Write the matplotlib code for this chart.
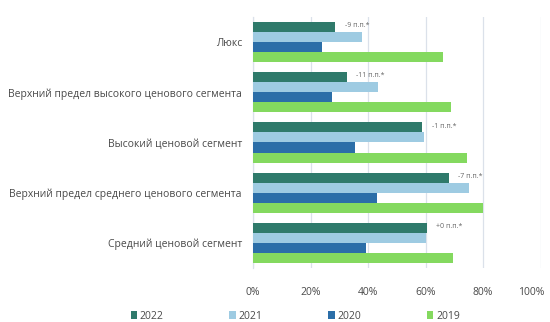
import numpy as np
import matplotlib
matplotlib.use('Agg')
import matplotlib.pyplot as plt
import matplotlib.transforms as mtransforms
from matplotlib.patches import Patch

# ── Данные ──────────────────────────────────────────────
segments = [
    'Люкс',
    'Верхний предел высокого ценового сегмента',
    'Высокий ценовой сегмент',
    'Верхний предел среднего ценового сегмента',
    'Средний ценовой сегмент',
]
years = ['2022', '2021', '2020', '2019']
share_2022 = [28.5, 32.6, 58.7, 68.0, 60.4]
share_2021 = [37.8, 43.5, 59.6, 75.0, 60.2]
share_2020 = [23.9, 27.5, 35.5, 43.2, 39.2]
share_2019 = [66.0, 69.0, 74.5, 80.0, 69.6]
deltas = ['-9 п.п.*', '-11 п.п.*', '-1 п.п.*', '-7 п.п.*', '+0 п.п.*']
x_ticks = [0, 20, 40, 60, 80, 100]

COLORS = ['#2f7a6b', '#9ecbe2', '#2b6ea8', '#84d95f']
TEXT = '#4a4a4a'
GRID = '#dbe1ea'

plt.rcParams['font.family'] = ['Open Sans', 'DejaVu Sans']

fig = plt.figure(figsize=(5.5, 3.22), dpi=100, facecolor='white')
ax = fig.add_axes([0.46, 0.168, 0.523, 0.779])

series = [share_2022, share_2021, share_2020, share_2019]
y = np.arange(len(segments))
h = 0.2
offsets = [-0.3, -0.1, 0.1, 0.3]
for vals, off, col in zip(series, offsets, COLORS):
    ax.barh(y + off, vals, height=h, color=col, zorder=3)

# подписи изменений справа от столбца 2022
for i, (v, txt) in enumerate(zip(share_2022, deltas)):
    ax.annotate(txt, (v, i - 0.3), xytext=(7, 1), textcoords='offset points',
                ha='left', va='center', fontsize=5, color='#666666')

ax.set_xlim(0, 100)
ax.set_ylim(len(segments) - 0.5, -0.5)
ax.set_xticks(x_ticks)
ax.set_xticklabels([f'{t}%' for t in x_ticks], fontsize=7.5, color=TEXT)
ax.set_yticks(y)
ax.set_yticklabels(segments, fontsize=7.5, color=TEXT)
ax.tick_params(length=0, pad=8)
ax.tick_params(axis='x', pad=14)
ax.xaxis.grid(True, color=GRID, linewidth=0.9, zorder=0)
for s in ['top', 'right', 'bottom']:
    ax.spines[s].set_visible(False)
ax.spines['left'].set_color(GRID)
ax.spines['left'].set_linewidth(0.9)

# крайняя подпись 100% упирается в край — сдвигаем чуть влево
last = ax.get_xticklabels()[-1]
last.set_transform(last.get_transform() +
                   mtransforms.ScaledTranslation(-9 / 100, 0, fig.dpi_scale_trans))

handles = [Patch(facecolor=c, edgecolor='none') for c in COLORS]
fig.legend(handles, years, loc='center', bbox_to_anchor=(0.537, 0.018),
           ncol=4, frameon=False, fontsize=7.5, labelcolor=TEXT,
           handlelength=0.6, handleheight=0.8, handletextpad=0.3,
           columnspacing=6.3)

fig.savefig('out.png', dpi=100, facecolor='white')
